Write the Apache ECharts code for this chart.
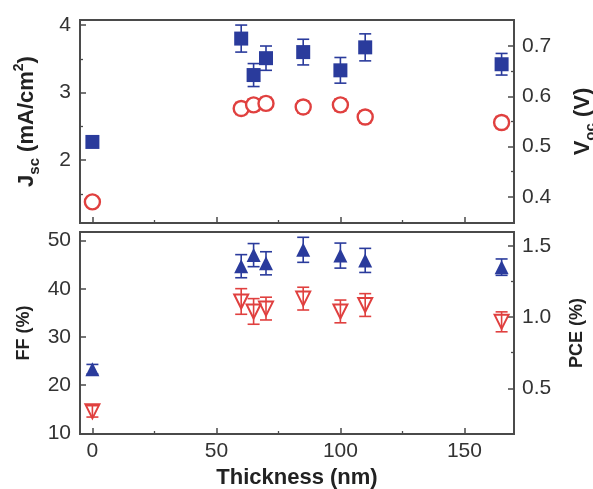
<!DOCTYPE html>
<html>
<head>
<meta charset="utf-8">
<script src="https://cdn.jsdelivr.net/npm/echarts@6/dist/echarts.min.js"></script>
<style>html,body{margin:0;padding:0;background:#fff}#c{width:593px;height:489px}</style>
</head>
<body>
<div id="c"></div>
<script>
// ---- data ----
var thickness = [0, 60, 65, 70, 85, 100, 110, 165];
var jsc    = [2.27, 3.80, 3.26, 3.51, 3.60, 3.33, 3.67, 3.42];
var jscErr = [0.03, 0.20, 0.17, 0.18, 0.19, 0.19, 0.20, 0.16];
var voc    = [0.390, 0.576, 0.583, 0.586, 0.579, 0.583, 0.559, 0.548];
var vocErr = [0.010, 0.012, 0.012, 0.012, 0.012, 0.012, 0.012, 0.012];
var ff     = [23.3, 44.7, 47.0, 45.3, 48.1, 46.9, 45.9, 44.5];
var ffErr  = [1.0, 2.4, 2.4, 2.4, 2.6, 2.6, 2.5, 1.7];
var pce    = [0.338, 1.11, 1.04, 1.06, 1.13, 1.04, 1.085, 0.967];
var pceErr = [0.04, 0.09, 0.09, 0.08, 0.08, 0.08, 0.08, 0.07];

var xTicks = [0, 50, 100, 150];
var xMinorTicks = [25, 75, 125];
var jscTicks = [2, 3, 4];
var jscMinorTicks = [1.5, 2.5, 3.5];
var vocTicks = [0.4, 0.5, 0.6, 0.7];
var vocMinorTicks = [0.45, 0.55, 0.65];
var ffTicks = [10, 20, 30, 40, 50];
var pceTicks = [0.5, 1.0, 1.5];
var pceMinorTicks = [0.75, 1.25];

// ---- build ----
var BLUE = '#2a3b9c', RED = '#e0403f', AX = '#4a4a4a', TXT = '#333';
var FONT = 'Liberation Sans, Arial, Helvetica, sans-serif';

function zip3(a, b, c) { return a.map(function (v, i) { return [v, b[i], c[i]]; }); }
function zip2(a, b) { return a.map(function (v, i) { return [v, b[i]]; }); }

function errRender(color) {
  return function (params, api) {
    var x = api.value(0), y = api.value(1), e = api.value(2);
    var hi = api.coord([x, y + e]), lo = api.coord([x, y - e]);
    var w = 6, st = { stroke: color, lineWidth: 1.6 };
    return { type: 'group', children: [
      { type: 'line', shape: { x1: hi[0], y1: hi[1], x2: lo[0], y2: lo[1] }, style: st },
      { type: 'line', shape: { x1: hi[0] - w, y1: hi[1], x2: hi[0] + w, y2: hi[1] }, style: st },
      { type: 'line', shape: { x1: lo[0] - w, y1: lo[1], x2: lo[0] + w, y2: lo[1] }, style: st }
    ]};
  };
}

function mainAxisBase(extra) {
  var o = {
    type: 'value', splitLine: { show: false },
    axisLine: { show: true, onZero: false, lineStyle: { color: AX, width: 1.8 } },
    axisTick: { show: true, inside: true, length: 6, lineStyle: { color: AX, width: 1.5 } },
    axisLabel: { show: true, color: TXT, fontSize: 21, fontFamily: FONT, margin: 8 }
  };
  for (var k in extra) o[k] = extra[k];
  return o;
}
function minorAxis(extra, vals) {
  var o = {
    type: 'value', splitLine: { show: false },
    axisLine: { show: false, onZero: false },
    axisLabel: { show: false },
    axisTick: { show: true, inside: true, length: 3, customValues: vals, lineStyle: { color: AX, width: 1.3 } }
  };
  for (var k in extra) o[k] = extra[k];
  return o;
}

var titleStyle = function (size) {
  return { color: '#222', fontWeight: 'bold', fontSize: size, fontFamily: FONT };
};

var X_MIN = -5, X_MAX = 170;
var JSC_MIN = 1.07, JSC_MAX = 4.075;
var VOC_MIN = 0.348, VOC_MAX = 0.752;
var FF_MIN = 9.85, FF_MAX = 51.8;
var PCE_MIN = 0.179, PCE_MAX = 1.598;

var f1 = function (v) { return v.toFixed(1); };

var option = {
  animation: false,
  backgroundColor: '#fff',
  grid: [
    { left: 80, top: 20, width: 434, height: 203, show: true, borderColor: AX, borderWidth: 1.8, containLabel: false, outerBoundsMode: 'none' },
    { left: 80, top: 232, width: 434, height: 202, show: true, borderColor: AX, borderWidth: 1.8, containLabel: false, outerBoundsMode: 'none' }
  ],
  xAxis: [
    mainAxisBase({ gridIndex: 0, position: 'bottom', min: X_MIN, max: X_MAX,
      axisLabel: { show: false },
      axisTick: { show: true, inside: true, length: 6, customValues: xTicks, lineStyle: { color: AX, width: 1.5 } } }),
    mainAxisBase({ gridIndex: 1, position: 'bottom', min: X_MIN, max: X_MAX,
      axisLabel: { show: true, color: TXT, fontSize: 21, fontFamily: FONT, margin: 7, customValues: xTicks },
      axisTick: { show: true, inside: true, length: 6, customValues: xTicks, lineStyle: { color: AX, width: 1.5 } },
      name: 'Thickness (nm)', nameLocation: 'middle', nameGap: 33, nameTextStyle: titleStyle(22) }),
    minorAxis({ gridIndex: 0, position: 'bottom', min: X_MIN, max: X_MAX }, xMinorTicks),
    minorAxis({ gridIndex: 1, position: 'bottom', min: X_MIN, max: X_MAX }, xMinorTicks)
  ],
  yAxis: [
    mainAxisBase({ gridIndex: 0, position: 'left', min: JSC_MIN, max: JSC_MAX,
      axisLabel: { show: true, color: TXT, fontSize: 21, fontFamily: FONT, margin: 9, customValues: jscTicks },
      axisTick: { show: true, inside: true, length: 6, customValues: jscTicks, lineStyle: { color: AX, width: 1.5 } },
      name: '{m|J}{s|sc}{m| (mA/cm}{p|2}{m|)}', nameLocation: 'middle', nameGap: 38,
      nameTextStyle: { color: '#222', fontWeight: 'bold', fontFamily: FONT, fontSize: 22,
        rich: {
          m: { fontSize: 22, fontWeight: 'bold', fontFamily: FONT, color: '#222', lineHeight: 30, verticalAlign: 'middle' },
          s: { fontSize: 15, fontWeight: 'bold', fontFamily: FONT, color: '#222', lineHeight: 14, verticalAlign: 'bottom' },
          p: { fontSize: 14, fontWeight: 'bold', fontFamily: FONT, color: '#222', lineHeight: 14, verticalAlign: 'top' }
        } } }),
    mainAxisBase({ gridIndex: 0, position: 'right', min: VOC_MIN, max: VOC_MAX,
      axisLabel: { show: true, color: TXT, fontSize: 21, fontFamily: FONT, margin: 8, customValues: vocTicks, formatter: f1 },
      axisTick: { show: true, inside: true, length: 6, customValues: vocTicks, lineStyle: { color: AX, width: 1.5 } },
      name: '{m|V}{s|oc}{m| (V)}', nameLocation: 'middle', nameGap: 54,
      nameTextStyle: { color: '#222', fontWeight: 'bold', fontFamily: FONT, fontSize: 22,
        rich: {
          m: { fontSize: 22, fontWeight: 'bold', fontFamily: FONT, color: '#222', lineHeight: 30, verticalAlign: 'middle' },
          s: { fontSize: 15, fontWeight: 'bold', fontFamily: FONT, color: '#222', lineHeight: 14, verticalAlign: 'bottom' }
        } } }),
    mainAxisBase({ gridIndex: 1, position: 'left', min: FF_MIN, max: FF_MAX,
      axisLabel: { show: true, color: TXT, fontSize: 21, fontFamily: FONT, margin: 9, customValues: ffTicks },
      axisTick: { show: true, inside: true, length: 6, customValues: ffTicks, lineStyle: { color: AX, width: 1.5 } },
      name: 'FF (%)', nameLocation: 'middle', nameGap: 47, nameTextStyle: titleStyle(18) }),
    mainAxisBase({ gridIndex: 1, position: 'right', min: PCE_MIN, max: PCE_MAX,
      axisLabel: { show: true, color: TXT, fontSize: 21, fontFamily: FONT, margin: 8, customValues: pceTicks, formatter: f1 },
      axisTick: { show: true, inside: true, length: 6, customValues: pceTicks, lineStyle: { color: AX, width: 1.5 } },
      name: 'PCE (%)', nameLocation: 'middle', nameGap: 54, nameTextStyle: titleStyle(18) }),
    minorAxis({ gridIndex: 0, position: 'left', min: JSC_MIN, max: JSC_MAX }, jscMinorTicks),
    minorAxis({ gridIndex: 0, position: 'right', min: VOC_MIN, max: VOC_MAX }, vocMinorTicks),
    minorAxis({ gridIndex: 1, position: 'right', min: PCE_MIN, max: PCE_MAX }, pceMinorTicks)
  ],
  series: [
    { type: 'custom', xAxisIndex: 0, yAxisIndex: 0, data: zip3(thickness, jsc, jscErr), renderItem: errRender(BLUE), z: 2, clip: false },
    { type: 'custom', xAxisIndex: 0, yAxisIndex: 1, data: zip3(thickness, voc, vocErr), renderItem: errRender(RED), z: 2, clip: false },
    { type: 'custom', xAxisIndex: 1, yAxisIndex: 2, data: zip3(thickness, ff, ffErr), renderItem: errRender(BLUE), z: 2, clip: false },
    { type: 'custom', xAxisIndex: 1, yAxisIndex: 3, data: zip3(thickness, pce, pceErr), renderItem: errRender(RED), z: 2, clip: false },
    { type: 'scatter', xAxisIndex: 0, yAxisIndex: 0, data: zip2(thickness, jsc), symbol: 'rect', symbolSize: 14,
      itemStyle: { color: BLUE, opacity: 1 }, z: 5 },
    { type: 'scatter', xAxisIndex: 0, yAxisIndex: 1, data: zip2(thickness, voc), symbol: 'circle', symbolSize: 15,
      itemStyle: { color: '#fff', borderColor: RED, borderWidth: 2.4, opacity: 1 }, z: 5 },
    { type: 'scatter', xAxisIndex: 1, yAxisIndex: 2, data: zip2(thickness, ff), symbol: 'triangle', symbolSize: 14,
      itemStyle: { color: BLUE, opacity: 1 }, z: 5 },
    { type: 'scatter', xAxisIndex: 1, yAxisIndex: 3, data: zip2(thickness, pce), symbol: 'triangle', symbolRotate: 180, symbolSize: 14,
      itemStyle: { color: 'rgba(255,255,255,0)', borderColor: RED, borderWidth: 2, opacity: 1 }, z: 5 }
  ]
};

var chart = echarts.init(document.getElementById('c'), null, { renderer: 'canvas' });
chart.setOption(option);
</script>
</body>
</html>
